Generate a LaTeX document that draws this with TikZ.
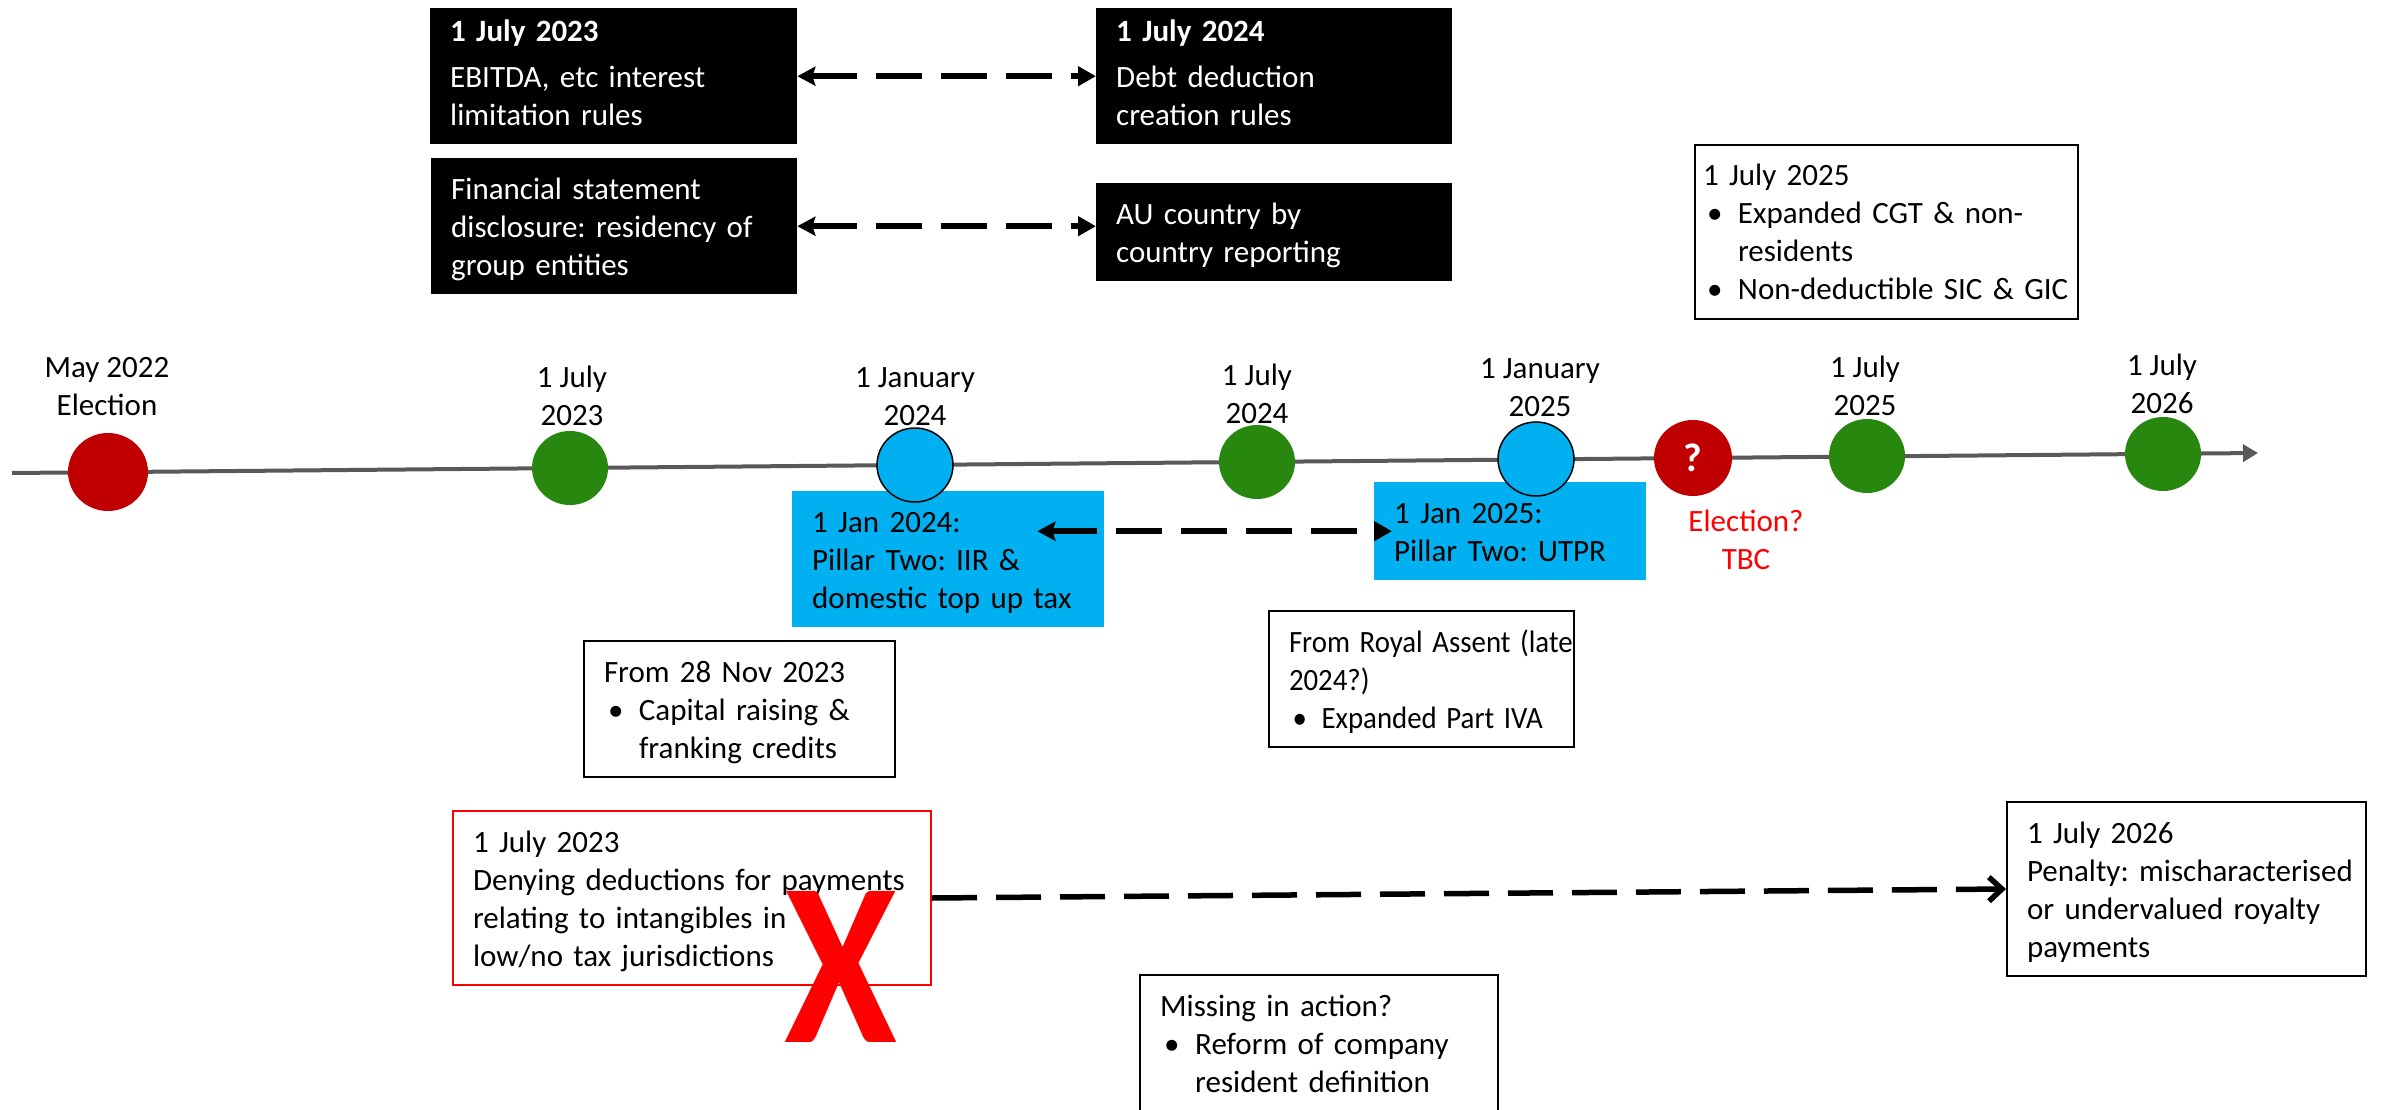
\documentclass[tikz,border=0pt]{standalone}
\usepackage{fontspec}
\setmainfont{Carlito}
\usetikzlibrary{arrows.meta,shapes.geometric,calc}

\definecolor{dotred}{HTML}{C00000}
\definecolor{dotgreen}{HTML}{28870F}
\definecolor{skyblue}{HTML}{00B0F0}
\definecolor{axisgray}{HTML}{595959}
\definecolor{alertred}{HTML}{FF0000}

\frenchspacing
\newcommand\basefont{\fontsize{31pt}{38pt}\selectfont\frenchspacing}
\newcommand\boxtopstrut{\rule{0pt}{41pt}}
\newcommand\titlestrut{\rule{0pt}{33pt}}
\newcommand\boxbotstrut{\rule[-19pt]{0pt}{19pt}}
\newcommand\labelstrut{\rule{0pt}{27pt}}
\newcommand\linescale{1}
\newcommand\plainline[1]{\mbox{\scalebox{\linescale}[1]{#1}}}
\newcommand\bulletline[1]{\mbox{\scalebox{\linescale}[1]{\makebox[35pt][l]{\hspace{4pt}\textbullet}#1}}}
\newcommand\indentline[1]{\mbox{\scalebox{\linescale}[1]{\hspace*{35pt}#1}}}

\begin{document}
\begin{tikzpicture}[x=1pt,y=-1pt,
  axis/.style={draw=axisgray, line width=4pt, -{Triangle[length=15pt,width=17pt]}},
  dot/.style={ellipse, minimum width=76pt, minimum height=74pt, inner sep=0pt},
  reddot/.style={dot, fill=dotred},
  greendot/.style={dot, fill=dotgreen},
  bluedot/.style={dot, fill=skyblue, draw=black, line width=1.5pt},
  datelabel/.style={anchor=north, inner sep=0pt, align=center, font=\basefont},
  textbox/.style={rectangle, anchor=north west, inner xsep=20pt, inner ysep=0pt,
                  text width=#1, align=left, font=\basefont},
  blackbox/.style={textbox=#1, fill=black, text=white},
  bluebox/.style={textbox=#1, fill=skyblue, text=black},
  linebox/.style={textbox=#1, draw=black, line width=2pt, fill=white},
  alertbox/.style={textbox=#1, draw=alertred, line width=2pt, fill=white},
  narrowtext/.style={execute at begin node=\renewcommand\linescale{0.93}},
  boxline/.style={draw=black, line width=2pt},
  linkarrow/.style={line width=6pt, dash pattern=on 46pt off 19pt,
                    {Stealth[length=18pt,width=19pt,inset=3pt]}-{Triangle[length=18pt,width=19pt]}},
  movearrow/.style={line width=5.5pt, dash pattern=on 45pt off 19pt,
                    -{Straight Barb[length=13pt,width=24pt]}}
]
\useasboundingbox (0,0) rectangle (2386,1110);
\fill[white] (0,0) rectangle (2386,1110);

% time axis
\coordinate (t0) at (12,473);
\coordinate (t1) at (2258,453);
\draw[axis] (t0) -- (t1);

% measures effective at fixed dates (top row)
\node[blackbox=327] (A) at (430,8)
  {\plainline{\titlestrut\textbf{1 July 2023}}\\[8pt]\plainline{EBITDA, etc interest}\\\plainline{limitation rules\boxbotstrut}};
\node[blackbox=316] (B) at (1096,8)
  {\plainline{\titlestrut\textbf{1 July 2024}}\\[8pt]\plainline{Debt deduction}\\\plainline{creation rules\boxbotstrut}};
\node[blackbox=326] (C) at (431,158)
  {\plainline{\boxtopstrut Financial statement}\\\plainline{disclosure: residency of}\\\plainline{group entities\boxbotstrut}};
\node[blackbox=316] (D) at (1096,183)
  {\plainline{\boxtopstrut AU country by}\\\plainline{country reporting\boxbotstrut}};

\node[linebox=367, inner xsep=8pt] (G) at (1694,144)
  {\plainline{\boxtopstrut 1 July 2025}\\\bulletline{Expanded CGT \& non-}\\\indentline{residents}\\\bulletline{Non-deductible SIC \& GIC\boxbotstrut}};

% Pillar Two boxes under the axis
\node[bluebox=272] (E) at (792,491)
  {\plainline{\boxtopstrut 1 Jan 2024:}\\\plainline{Pillar Two: IIR \&}\\\plainline{domestic top up tax\boxbotstrut}};
\node[bluebox=232] (F) at (1374,482)
  {\plainline{\boxtopstrut 1 Jan 2025:}\\\plainline{Pillar Two: UTPR\boxbotstrut}};

% milestones on the axis
\node[reddot, minimum width=80pt, minimum height=78pt] (m0) at (108,472) {};
\node[greendot] (m1) at (570,468) {};
\node[bluedot] (m2) at (915,465) {};
\node[greendot] (m3) at (1257,462) {};
\node[bluedot] (m4) at (1536,459) {};
\node[reddot, minimum width=78pt, minimum height=76pt, text=white,
      font=\fontsize{40pt}{40pt}\selectfont\bfseries] (m5) at (1693,458) {?};
\node[greendot] (m6) at (1867,456) {};
\node[greendot] (m7) at (2163,454) {};

% milestone dates
\node[datelabel] (d0) at (107,350) {\labelstrut May 2022\\Election};
\node[datelabel] (d1) at (572,360) {\labelstrut 1 July\\2023};
\node[datelabel] (d2) at (915,360) {\labelstrut 1 January\\2024};
\node[datelabel] (d3) at (1257,358) {\labelstrut 1 July\\2024};
\node[datelabel] (d4) at (1540,351) {\labelstrut 1 January\\2025};
\node[datelabel] (d6) at (1865,350) {\labelstrut 1 July\\2025};
\node[datelabel] (d7) at (2162,348) {\labelstrut 1 July\\2026};
\node[datelabel, text=alertred] (d5) at (1746,504) {\labelstrut Election?\\TBC};

% further measures
\node[linebox=271] (H) at (583,640)
  {\plainline{\boxtopstrut From 28 Nov 2023}\\\bulletline{Capital raising \&}\\\indentline{franking credits\boxbotstrut}};
\node[linebox=265, narrowtext] (I) at (1268,610)
  {\plainline{\boxtopstrut From Royal Assent (late}\\\plainline{2024?)}\\\bulletline{Expanded Part IVA\boxbotstrut}};
\node[alertbox=438] (K) at (452,810)
  {\plainline{\boxtopstrut 1 July 2023}\\\plainline{Denying deductions for payments}\\\plainline{relating to intangibles in}\\\plainline{low/no tax jurisdictions\boxbotstrut}};
\node[linebox=319] (L) at (2006,801)
  {\plainline{\boxtopstrut 1 July 2026}\\\plainline{Penalty: mischaracterised}\\\plainline{or undervalued royalty}\\\plainline{payments\boxbotstrut}};
\node[textbox=318] (J) at (1140,975)
  {\plainline{\boxtopstrut Missing in action?}\\\bulletline{Reform of company}\\\indentline{resident definition\boxbotstrut}};
\draw[boxline] (J.south west) -- (J.north west) -- (J.north east) -- (J.south east);

% links between related measures
\draw[linkarrow] (A.east) -- (B.west);
\draw[linkarrow] (C.east) -- (C.east -| D.west);
\draw[linkarrow] ($(E.east |- F.west)+(-67,0)$) -- ($(F.west)+(18,0)$);
\draw[movearrow] (K.east) -- (L.west);

% cross over the dropped measure
\node[inner sep=0pt, text=alertred, font=\fontsize{233pt}{233pt}\selectfont\bfseries] (X) at (841,967)
  {\scalebox{0.88}[1]{X}};
\end{tikzpicture}
\end{document}
